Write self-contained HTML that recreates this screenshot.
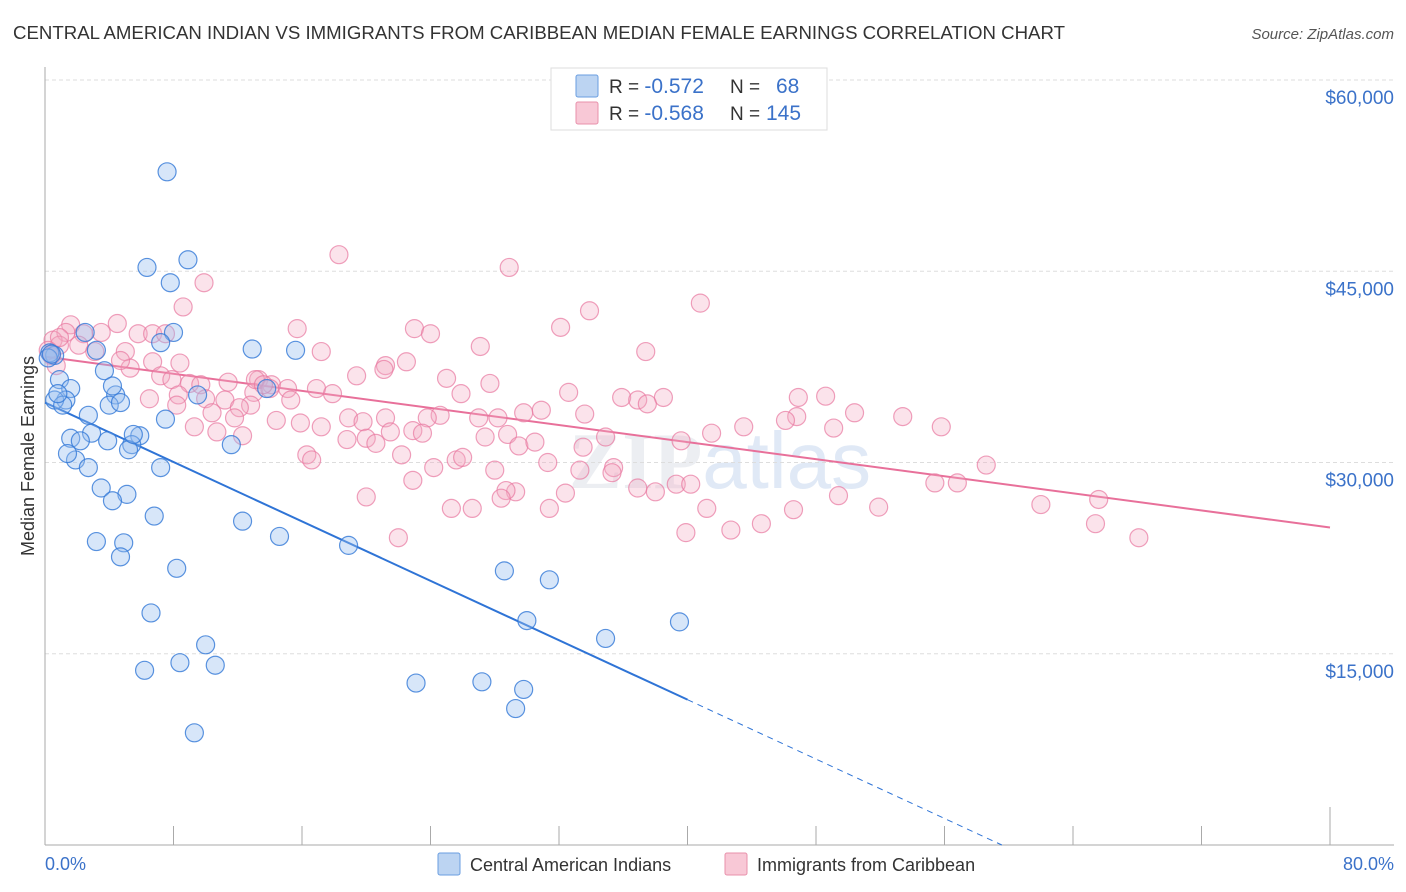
<!DOCTYPE html>
<html><head><meta charset="utf-8">
<style>
body{margin:0;background:#fff;font-family:"Liberation Sans",sans-serif;}
#wrap{position:relative;width:1406px;height:892px;overflow:hidden;}
</style></head>
<body>
<div id="wrap">
<svg id="svg" width="1406" height="892" xmlns="http://www.w3.org/2000/svg">
<text x="13" y="39" font-size="18" fill="#333" textLength="1052" lengthAdjust="spacingAndGlyphs">CENTRAL AMERICAN INDIAN VS IMMIGRANTS FROM CARIBBEAN MEDIAN FEMALE EARNINGS CORRELATION CHART</text>
<text x="1394" y="39" font-size="15" fill="#555" text-anchor="end" font-style="italic">Source: ZipAtlas.com</text>
<text x="720" y="488" font-size="80" fill="#eceef2" text-anchor="middle" font-family="Liberation Serif" font-weight="bold">ZIP<tspan fill="#e0e9f6" font-family="Liberation Sans" font-weight="normal">atlas</tspan></text>
<g id="grid"></g>
<g id="axes"></g>
<g id="trends"></g>
<g id="pts"></g>
<text transform="translate(34,456) rotate(-90)" font-size="18" fill="#333" text-anchor="middle">Median Female Earnings</text>
<text x="45" y="870" font-size="18" fill="#3b72c9">0.0%</text>
<text x="1394" y="870" font-size="18" fill="#3b72c9" text-anchor="end">80.0%</text>
<g>
<rect x="551" y="68" width="276" height="62" fill="#fff" stroke="#ddd"/>
<rect x="576" y="75" width="22" height="22" fill="#bcd4f2" stroke="#6a9ee0" rx="2"/>
<rect x="576" y="102" width="22" height="22" fill="#f8c8d6" stroke="#e890ab" rx="2"/>
<text x="609" y="93" font-size="19" fill="#333">R = <tspan fill="#3b72c9" font-size="21">-0.572</tspan><tspan x="730">N = </tspan><tspan x="776" fill="#3b72c9" font-size="21">68</tspan></text>
<text x="609" y="120" font-size="19" fill="#333">R = <tspan fill="#3b72c9" font-size="21">-0.568</tspan><tspan x="730">N = </tspan><tspan x="766" fill="#3b72c9" font-size="21">145</tspan></text>
</g>
<g>
<rect x="438" y="853" width="22" height="22" fill="#bcd4f2" stroke="#6a9ee0" rx="2"/>
<text x="470" y="871" font-size="18" fill="#333">Central American Indians</text>
<rect x="725" y="853" width="22" height="22" fill="#f8c8d6" stroke="#e890ab" rx="2"/>
<text x="757" y="871" font-size="18" fill="#333">Immigrants from Caribbean</text>
</g>
</svg>
</div>
<script>
const yTicks=[15000,30000,45000,60000];
const yTickLabels=["$15,000","$30,000","$45,000","$60,000"];
const xTicks=[0,8,16,24,32,40,48,56,64,72,80];
const blueX=[7.6,6.35,8.9,7.8,8.0,7.2,2.5,3.2,0.6,0.3,0.2,0.9,1.6,1.3,0.6,1.1,3.7,4.4,4.0,4.7,2.7,2.9,5.9,5.4,5.2,1.6,2.2,3.9,1.9,1.4,2.7,7.2,3.5,5.1,4.2,6.8,3.2,4.9,4.7,8.2,6.6,10.0,8.4,6.2,10.6,9.3,12.3,14.6,12.9,15.6,13.8,18.9,11.6,9.5,7.5,28.6,31.4,30.0,23.1,27.2,29.3,29.8,34.9,39.5,0.8,5.5,4.2,0.4];
const blueY=[52.8,45.3,45.9,44.1,40.2,39.4,40.2,38.8,38.4,38.6,38.2,36.5,35.8,34.9,34.9,34.5,37.2,35.3,34.5,34.7,33.7,32.3,32.1,31.4,31.0,31.9,31.7,31.7,30.2,30.7,29.6,29.6,28.0,27.5,27.0,25.8,23.8,23.7,22.6,21.7,18.2,15.7,14.3,13.7,14.1,8.8,25.4,24.2,38.9,38.8,35.8,23.5,31.4,35.3,33.4,21.5,20.8,17.6,12.7,12.8,10.7,12.2,16.2,17.5,35.4,32.2,36.0,38.5];
const pinkX=[18.3,28.9,9.9,8.6,40.8,33.9,32.1,23.0,24.0,15.7,4.5,1.6,1.3,2.4,3.5,5.8,6.7,7.5,37.4,27.1,17.2,22.5,21.2,21.1,19.4,0.5,0.9,0.2,0.7,2.1,3.1,5.0,5.3,4.7,6.7,7.2,7.9,9.0,9.7,11.4,13.3,14.1,15.1,16.9,17.9,13.0,11.2,10.0,8.3,8.2,12.8,12.1,15.3,14.0,25.0,27.7,25.9,32.6,35.9,36.9,38.5,46.9,48.6,46.8,46.1,50.4,53.4,55.8,49.1,43.5,41.5,39.6,37.5,34.9,33.6,30.9,29.8,28.2,27.0,24.6,23.8,22.9,21.2,18.9,19.8,14.4,15.9,17.2,9.3,10.7,10.4,11.8,12.3,16.3,16.6,18.8,20.0,20.6,21.5,22.2,23.5,27.4,28.8,29.5,30.5,31.3,33.5,24.2,25.6,26.0,28.0,33.3,35.4,35.3,36.9,38.0,39.3,40.2,41.2,39.9,42.7,44.6,46.6,49.4,51.9,55.4,56.8,58.6,62.0,65.6,65.4,68.1,32.4,31.4,29.3,28.7,28.4,26.6,25.3,22.9,22.0,20.0,13.1,13.6,0.4,0.9,6.5,8.4];
const pinkY=[46.3,45.3,44.1,42.2,42.5,41.9,40.6,40.5,40.1,40.5,40.9,40.8,40.2,40.1,40.2,40.1,40.1,40.1,38.7,39.1,38.7,37.9,37.6,37.3,36.8,39.6,39.2,38.8,37.6,39.2,38.7,38.7,37.4,38.0,37.9,36.8,36.5,36.2,36.1,36.3,36.5,36.1,35.8,35.8,35.4,35.5,34.9,35.0,35.3,34.5,34.5,34.3,34.9,35.8,36.6,36.2,35.4,35.5,35.1,34.9,35.1,35.1,35.2,33.6,33.3,33.9,33.6,32.8,32.7,32.8,32.3,31.7,34.6,32.0,33.8,34.1,33.9,33.5,33.5,33.7,33.5,32.5,33.5,33.5,33.2,33.3,33.1,32.8,32.8,32.4,33.9,33.5,32.1,30.6,30.2,31.8,31.9,31.5,32.4,30.6,32.3,32.0,32.2,31.3,31.6,30.0,31.2,29.6,30.2,30.4,29.4,29.4,29.6,29.2,28.0,27.7,28.3,28.3,26.4,24.5,24.7,25.2,26.3,27.4,26.5,28.4,28.4,29.8,26.7,27.1,25.2,24.1,27.6,26.4,27.7,27.8,27.2,26.4,26.4,28.6,24.1,27.3,36.5,36.1,38.4,39.8,35.0,37.8];
const blueTrend=[34.7,11.4];
const blueTrendEndX=40;
const pinkTrend=[38.3,24.9];

const NS="http://www.w3.org/2000/svg";
const X0=45,X1=1330,Y0=845,YTOP=80;
function xs(p){return X0+p/80*(X1-X0);}
function ys(v){return Y0-v/60000*(Y0-YTOP);}
function mk(tag,attrs,parent){const e=document.createElementNS(NS,tag);for(const k in attrs)e.setAttribute(k,attrs[k]);parent.appendChild(e);return e;}
const grid=document.getElementById('grid'),axes=document.getElementById('axes'),tr=document.getElementById('trends'),pts=document.getElementById('pts');
yTicks.forEach((v,i)=>{
 const l=mk('line',{x1:X0,x2:1394,y1:ys(v),y2:ys(v),stroke:'#ddd','stroke-dasharray':'4,3'},grid);
 
 
 const t=mk('text',{x:1394,y:ys(v)+24,'font-size':19,fill:'#3b72c9','text-anchor':'end'},grid);
 t.textContent=yTickLabels[i];
 
 
});
const ya=mk('line',{x1:X0,x2:X0,y1:67,y2:Y0,stroke:'#aaa'},axes);


const xa=mk('line',{x1:X0,x2:1394,y1:Y0,y2:Y0,stroke:'#aaa'},axes);


xTicks.forEach((p,i)=>{
 const big=(i===xTicks.length-1);
 const t=mk('line',{x1:xs(p),x2:xs(p),y1:big?807:826,y2:Y0,stroke:'#aaa'},axes);
 
 
});
const bx2=blueTrendEndX, slope=(blueTrend[1]-blueTrend[0])/bx2, zeroX=-blueTrend[0]/slope;
const bl=mk('line',{x1:xs(0),y1:ys(blueTrend[0]*1000),x2:xs(bx2),y2:ys(blueTrend[1]*1000),stroke:'#2f74d6','stroke-width':2},tr);


const bd=mk('line',{x1:xs(bx2),y1:ys(blueTrend[1]*1000),x2:xs(zeroX),y2:ys(0),stroke:'#2f74d6','stroke-width':1,'stroke-dasharray':'6,5'},tr);


const pl=mk('line',{x1:xs(0),y1:ys(pinkTrend[0]*1000),x2:xs(80),y2:ys(pinkTrend[1]*1000),stroke:'#e8709a','stroke-width':2},tr);


pinkX.forEach((p,i)=>{
 const c=mk('circle',{cx:xs(p),cy:ys(pinkY[i]*1000),r:9,fill:'rgba(244,170,195,0.33)',stroke:'rgba(232,120,160,0.7)','stroke-width':1.2},pts);
 
 
});
blueX.forEach((p,i)=>{
 const c=mk('circle',{cx:xs(p),cy:ys(blueY[i]*1000),r:9,fill:'rgba(150,190,238,0.38)',stroke:'rgba(50,120,215,0.8)','stroke-width':1.2},pts);
 
 
});
</script>
</body></html>
